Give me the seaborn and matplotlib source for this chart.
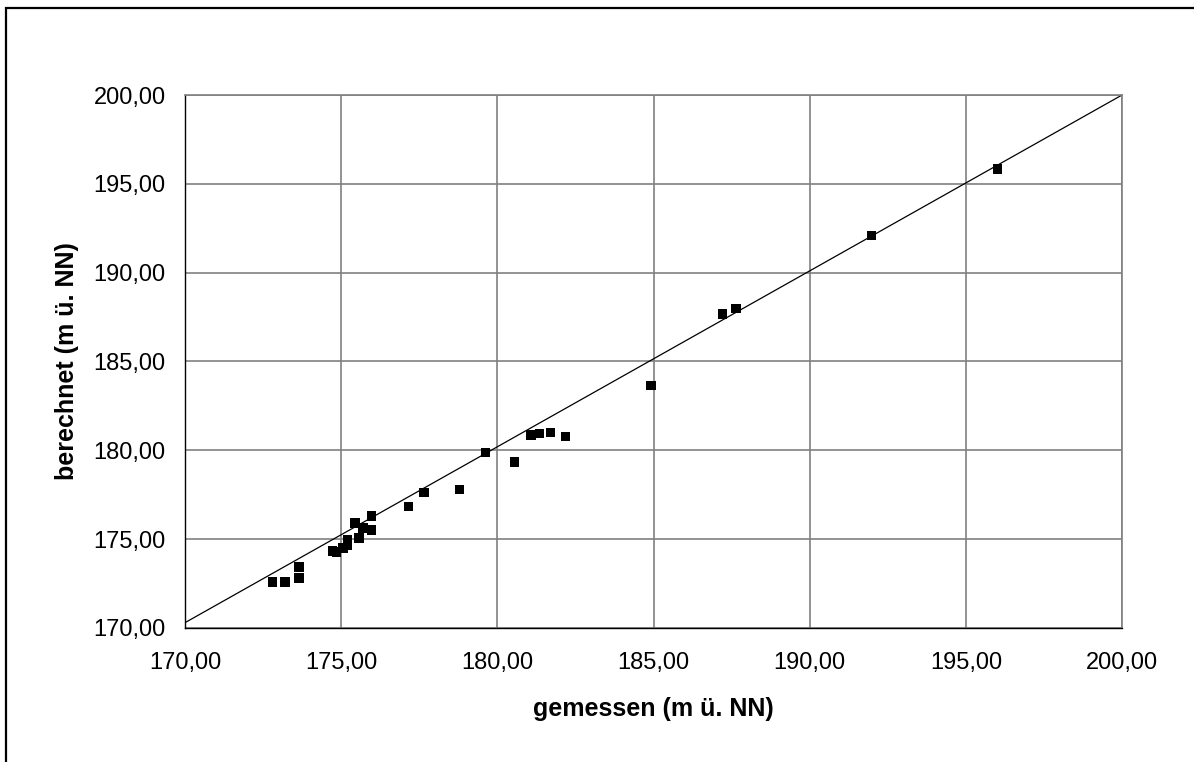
import matplotlib
matplotlib.use('Agg')
import matplotlib.pyplot as plt
import matplotlib.patches as patches
import matplotlib.ticker as mticker
import seaborn as sns
import pandas as pd

# gemessen vs. berechnet (m ü. NN)
gemessen = [172.79, 173.20, 173.65, 173.65, 174.71, 174.84, 175.06, 175.19, 175.19,
            175.44, 175.57, 175.70, 175.96, 175.96, 177.15, 177.65, 178.78, 179.62,
            180.54, 181.08, 181.34, 181.70, 182.18, 184.92, 187.20, 187.64, 191.97, 196.01]
berechnet = [172.59, 172.59, 172.81, 173.43, 174.33, 174.28, 174.50, 174.67, 174.95,
             175.91, 175.06, 175.63, 176.30, 175.52, 176.83, 177.64, 177.81, 179.89,
             179.34, 180.86, 180.96, 181.01, 180.79, 183.66, 187.67, 187.99, 192.10, 195.83]

# Ausgleichslinie (Endpunkte)
linie_x = [170.0, 200.0]
linie_y = [170.3, 200.0]

df = pd.DataFrame({'gemessen': gemessen, 'berechnet': berechnet})
df_linie = pd.DataFrame({'x': linie_x, 'y': linie_y})

sns.set_style('white')
plt.rcParams['font.family'] = ['Liberation Sans', 'DejaVu Sans']
plt.rcParams['text.color'] = 'black'
plt.rcParams['axes.labelcolor'] = 'black'
plt.rcParams['xtick.color'] = 'black'
plt.rcParams['ytick.color'] = 'black'

fig = plt.figure(figsize=(11.94, 7.62), dpi=100)
ax = fig.add_axes([0.155, 0.1759, 0.7847, 0.6994])

sns.lineplot(data=df_linie, x='x', y='y', color='black', linewidth=0.9, ax=ax)
sns.scatterplot(data=df, x='gemessen', y='berechnet', marker='s', s=45,
                color='black', edgecolor='none', ax=ax, zorder=3)

ax.set_xlim(170, 200)
ax.set_ylim(170, 200)
ax.set_xticks(range(170, 201, 5))
ax.set_yticks(range(170, 201, 5))
fmt = mticker.FuncFormatter(lambda v, p: f"{v:.2f}".replace('.', ','))
ax.xaxis.set_major_formatter(fmt)
ax.yaxis.set_major_formatter(fmt)

ax.grid(True, color='#808080', linewidth=1.2)
ax.set_axisbelow(True)
for s in ['top', 'right']:
    ax.spines[s].set_color('#808080')
    ax.spines[s].set_linewidth(1.2)
for s in ['left', 'bottom']:
    ax.spines[s].set_color('black')
    ax.spines[s].set_linewidth(1.0)

ax.tick_params(axis='both', direction='out', length=5, width=1, color='black',
               labelsize=17, labelcolor='black')
ax.tick_params(axis='x', pad=12)
ax.tick_params(axis='y', pad=9)

ax.set_xlabel('gemessen (m ü. NN)', fontsize=18, fontweight='bold', color='black')
ax.set_ylabel('berechnet (m ü. NN)', fontsize=18, fontweight='bold', color='black')
ax.xaxis.set_label_coords(0.5, -0.129)
ax.yaxis.set_label_coords(-0.113, 0.5)

# Rahmen um das Diagramm
rahmen = patches.Rectangle((6 / 1194, -0.2), 2.0, 1.2 - 8 / 762,
                           transform=fig.transFigure, fill=False,
                           edgecolor='black', linewidth=1.6)
fig.patches.append(rahmen)

fig.savefig('out.png', dpi=100, facecolor='white')
